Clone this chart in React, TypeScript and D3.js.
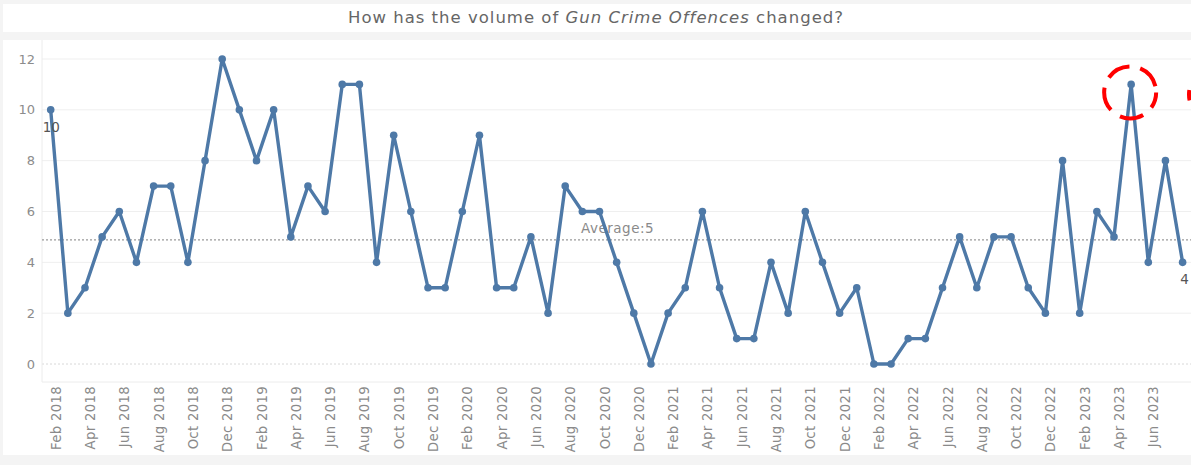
import React from "react";
import * as d3 from "d3";

// Monthly gun crime offence counts, Feb 2018 – Aug 2023
const startMonth = new Date(2018, 1, 1);
const offences = [
  10, 2, 3, 5, 6, 4, 7, 7, 4, 8, 12, 10, 8, 10, 5, 7, 6,
  11, 11, 4, 9, 6, 3, 3, 6, 9, 3, 3, 5, 2, 7, 6, 6, 4,
  2, 0, 2, 3, 6, 3, 1, 1, 4, 2, 6, 4, 2, 3, 0, 0, 1,
  1, 3, 5, 3, 5, 5, 3, 2, 8, 2, 6, 5, 11, 4, 8, 4,
];
const yTicks = [0, 2, 4, 6, 8, 10, 12];
const labelledPoints = [0, offences.length - 1];
const highlightedIndex = 63; // spring 2023 peak

const W = 1191;
const H = 465;
const BLUE = "#4e79a7";
const FONT = "'DejaVu Sans', 'Open Sans', sans-serif";

export default function App() {
  const months = offences.map((_, i) => d3.timeMonth.offset(startMonth, i));
  const fmt = d3.timeFormat("%b %Y");

  const x = d3.scaleLinear().domain([0, offences.length - 1]).range([50.7, 1182.6]);
  const y = d3.scaleLinear().domain([0, 12]).range([364, 59]);

  const line = d3
    .line<number>()
    .x((_, i) => x(i))
    .y((d) => y(d));

  const avg = d3.mean(offences) as number;
  const axisLeft = 42;
  const plotBottom = 382;

  // every second month gets a tick label, as long as it fits on the page
  const tickIdx = months.map((_, i) => i).filter((i) => i % 2 === 0 && x(i) + 10 < W - 4);

  const hx = x(highlightedIndex);
  const hy = y(offences[highlightedIndex]);

  return (
    <svg
      width={W}
      height={H}
      style={{ position: "absolute", left: 0, top: 0, display: "block" }}
      fontFamily={FONT}
    >
      {/* dashboard background and panels */}
      <rect x={0} y={0} width={W} height={H} fill="#f4f4f4" />
      <rect x={3} y={4} width={W - 3} height={28} fill="#ffffff" />
      <rect x={3} y={40} width={W - 3} height={415} fill="#ffffff" />

      {/* title */}
      <text x={596} y={23} textAnchor="middle" fontSize={16.5} fill="#666" letterSpacing={1}>
        How has the volume of{" "}
        <tspan fontStyle="italic">Gun Crime Offences</tspan> changed?
      </text>

      {/* gridlines */}
      {yTicks.map((t) => (
        <line
          key={t}
          x1={axisLeft}
          x2={W}
          y1={y(t)}
          y2={y(t)}
          stroke={t === 0 ? "#d8d8d8" : "#efefef"}
          strokeWidth={1}
          strokeDasharray={t === 0 ? "2 2" : undefined}
        />
      ))}

      {/* axes frame */}
      <line x1={axisLeft} x2={axisLeft} y1={40} y2={plotBottom} stroke="#ececec" />
      <line x1={axisLeft} x2={W} y1={plotBottom} y2={plotBottom} stroke="#ececec" />

      {/* y tick labels */}
      {yTicks.map((t) => (
        <text
          key={t}
          x={35}
          y={y(t)}
          dy="0.35em"
          textAnchor="end"
          fontSize={13}
          fill="#8c8c8c"
        >
          {t}
        </text>
      ))}

      {/* x tick labels */}
      {tickIdx.map((i) => (
        <text
          key={i}
          transform={`translate(${x(i) + 10},${386}) rotate(-90)`}
          textAnchor="end"
          fontSize={13.2}
          letterSpacing={0.35}
          fill="#8a8a8a"
        >
          {fmt(months[i])}
        </text>
      ))}

      {/* average reference line */}
      <line
        x1={axisLeft}
        x2={W}
        y1={y(avg)}
        y2={y(avg)}
        stroke="#9a9a9a"
        strokeWidth={1.2}
        strokeDasharray="2 2"
      />
      <text x={581} y={y(avg) - 7} fontSize={13.5} letterSpacing={0.5} fill="#8a8a8a">
        {`Average:${d3.format(".0f")(avg)}`}
      </text>

      {/* series */}
      <path d={line(offences) ?? ""} fill="none" stroke={BLUE} strokeWidth={3.4} strokeLinejoin="round" />
      {offences.map((v, i) => (
        <circle key={i} cx={x(i)} cy={y(v)} r={3.8} fill={BLUE} />
      ))}

      {/* first / last value labels */}
      {labelledPoints.map((i) => (
        <text
          key={i}
          x={x(i)}
          y={y(offences[i]) + 22}
          textAnchor={i === 0 ? "start" : "middle"}
          dx={i === 0 ? -8 : 2}
          fontSize={13.5}
          fill="#555"
        >
          {offences[i]}
        </text>
      ))}

      {/* highlight around the 2023 peak */}
      <circle
        cx={hx - 1}
        cy={hy + 8}
        r={26}
        fill="none"
        stroke="#ff0000"
        strokeWidth={4}
        strokeDasharray="24 11"
        strokeDashoffset={8}
      />
      <path
        d={d3.arc()({
          innerRadius: 30,
          outerRadius: 30,
          startAngle: -Math.PI / 2 - 0.2,
          endAngle: -Math.PI / 2 + 0.15,
        }) ?? ""}
        transform={`translate(${W + 28},${hy + 10})`}
        fill="none"
        stroke="#ff0000"
        strokeWidth={4}
      />
    </svg>
  );
}
